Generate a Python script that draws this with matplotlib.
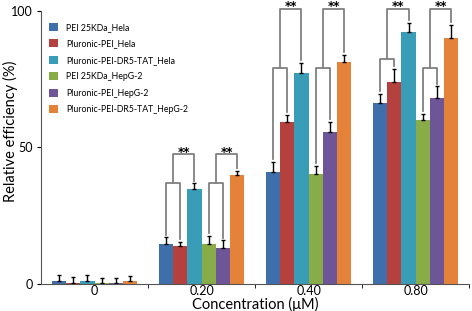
import numpy as np
import matplotlib.pyplot as plt

plt.rcParams['font.family'] = ['Lato', 'DejaVu Sans']

# data
concentrations = ['0', '0.20', '0.40', '0.80']
series = ['PEI 25KDa_Hela', 'Pluronic-PEI_Hela', 'Pluronic-PEI-DR5-TAT_Hela',
          'PEI 25KDa_HepG-2', 'Pluronic-PEI_HepG-2', 'Pluronic-PEI-DR5-TAT_HepG-2']
values = [
    [0.9, 14.6, 41.0, 66.3],
    [0.3, 13.9, 59.3, 74.0],
    [0.9, 34.8, 77.2, 92.3],
    [0.3, 14.6, 40.3, 60.0],
    [0.4, 13.2, 55.8, 68.0],
    [0.9, 39.8, 81.3, 90.0],
]
errors = [
    [2.4, 2.5, 3.7, 3.3],
    [2.2, 1.5, 2.6, 4.8],
    [2.4, 2.0, 3.7, 3.3],
    [1.9, 3.0, 3.0, 2.2],
    [1.8, 2.8, 3.6, 4.4],
    [2.0, 1.5, 2.6, 4.8],
]
colors = ['#3F6FAB', '#B5413E', '#3A9DB8', '#87AC48', '#6E5597', '#E4823A']

# bracket heights (inner, outer) for each significance group, groups 1..3
inner_h = [[37, 37], [79, 79], [82.5, 79]]
outer_h = [[47.5, 47.5], [100.8, 100.8], [100.8, 100.8]]

fig = plt.figure(figsize=(4.72, 3.11), dpi=100)
ax = fig.add_axes([0.087, 0.087, 0.907, 0.878])

x = np.arange(len(concentrations))
w = 0.8 / 6
for i in range(6):
    pos = x - 0.4 + w * (i + 0.5)
    ax.bar(pos, values[i], w, color=colors[i], label=series[i])
    ax.errorbar(pos, values[i], yerr=[np.zeros(4), errors[i]], fmt='none',
                ecolor='black', elinewidth=1, capsize=1.5, capthick=1)

# significance brackets
gc = '#808080'
for g in range(1, 4):
    for k in range(2):
        b0 = k * 3
        xa = x[g] - 0.4 + w * (b0 + 0.5)
        xb = x[g] - 0.4 + w * (b0 + 1.5)
        xc = x[g] - 0.4 + w * (b0 + 2.5)
        ta = values[b0][g] + errors[b0][g] + 1
        tb = values[b0 + 1][g] + errors[b0 + 1][g] + 1
        tc = values[b0 + 2][g] + errors[b0 + 2][g] + 1
        hi = inner_h[g - 1][k]
        ho = outer_h[g - 1][k]
        xm = (xa + xb) / 2
        ax.plot([xa, xa, xb, xb], [ta, hi, hi, tb], color=gc, lw=1.3, clip_on=False)
        ax.plot([xm, xm, xc, xc], [hi, ho, ho, tc], color=gc, lw=1.3, clip_on=False)
        ax.text((xm + xc) / 2, ho - 0.6, '**', ha='center', va='baseline',
                fontsize=8.5, fontweight='bold', family='DejaVu Sans', clip_on=False)

ax.set_xlim(-0.5, 3.5)
ax.set_ylim(0, 100)
ax.set_yticks([0, 50, 100])
ax.set_xticks(x)
ax.set_xticklabels(concentrations)
ax.set_xticks([0.5, 1.5, 2.5, 3.5], minor=True)
ax.tick_params(axis='x', which='major', length=0, labelsize=9, pad=1)
ax.tick_params(axis='x', which='minor', length=3)
ax.tick_params(axis='y', labelsize=9, length=3, pad=3)
ax.spines['top'].set_visible(False)
ax.spines['right'].set_visible(False)
ax.spines['left'].set_color('#555555')
ax.spines['bottom'].set_color('#555555')

ax.set_xlabel('Concentration (\u03bcM)', fontsize=10.5, labelpad=0)
ax.set_ylabel('Relative efficiency (%)', fontsize=10.5)
ax.yaxis.set_label_coords(-0.055, 0.56)

ax.legend(loc='upper left', bbox_to_anchor=(0.0, 0.985), frameon=False,
          fontsize=6.3, handlelength=1.0, handleheight=1.0,
          labelspacing=0.85, handletextpad=1.0)

plt.savefig('out.png', dpi=100)
